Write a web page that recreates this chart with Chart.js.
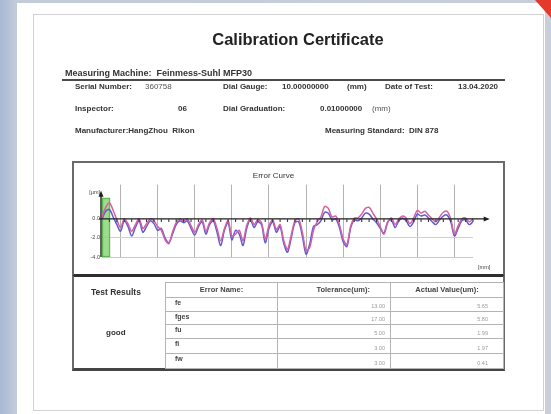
<!DOCTYPE html>
<html>
<head>
<meta charset="utf-8">
<script src="https://cdn.jsdelivr.net/npm/chart.js@4.4.1/dist/chart.umd.min.js"></script>
<style>
html, body { margin: 0; padding: 0; }
body {
  width: 551px; height: 414px; position: relative; overflow: hidden;
  background: linear-gradient(to right, #a8b9d3 0px, #c2cbd8 16px, #c8cfda 100%);
  font-family: "Liberation Sans", Arial, sans-serif; color: #2a2a2a;
}
.sheet { position: absolute; left: 17px; top: 3px; width: 528px; height: 411px; background: #fff; }
.corner { position: absolute; right: 0; top: 0; width: 0; height: 0;
  border-top: 18px solid #e4392b; border-left: 16px solid transparent; }
.doc { position: absolute; left: 0; top: 0; width: 551px; height: 414px; filter: blur(0.45px); }
.frame { position: absolute; left: 33px; top: 14px; width: 509px; height: 395px; border: 1px solid #d2d2d2; }
.t { position: absolute; white-space: nowrap; line-height: 1; font-size: 8px; font-weight: bold; color: #333; }
.n { font-weight: normal; color: #555; }
.title { position: absolute; left: 150px; width: 296px; top: 31px; text-align: center;
  font-size: 16.5px; font-weight: bold; line-height: 1; color: #222; }
.rule { position: absolute; left: 62px; top: 79px; width: 443px; height: 2px; background: #4a4a4a; }
.cbox { position: absolute; left: 72px; top: 161px; width: 429px; height: 111px;
  border: 2px solid #6a6a6a; border-bottom: 3px solid #2e2e2e; }
.tbox { position: absolute; left: 72px; top: 276px; width: 429px; height: 92px;
  border-left: 2px solid #6a6a6a; border-right: 2px solid #6a6a6a; border-bottom: 3px solid #454545; }
#curve { position: absolute; left: 74px; top: 163px; }
table { position: absolute; left: 165px; top: 282px; border-collapse: collapse; table-layout: fixed;
  font-family: "Liberation Sans", Arial, sans-serif; border: 1px solid #8a8a8a; }
td { border: 1px solid #b4b4b4; padding: 0; line-height: 1; white-space: nowrap; }
td.h { font-size: 7.5px; font-weight: bold; color: #444; text-align: center; }
td.k { font-size: 7px; font-weight: bold; color: #444; padding-left: 9px; vertical-align: top; padding-top: 1px; }
td.v { font-size: 5.5px; color: #9a9a9a; text-align: right; padding-right: 5px; vertical-align: bottom; padding-bottom: 2px; }
td.a { padding-right: 15px; }
</style>
</head>
<body>
<div class="sheet"></div>
<div class="corner"></div>
<div class="doc">
  <div class="frame"></div>
  <div class="title">Calibration Certificate</div>
  <div class="t" style="left:65px;top:69px;font-size:9px">Measuring Machine:&nbsp; Feinmess-Suhl MFP30</div>
  <div class="rule"></div>

  <div class="t" style="left:75px;top:83px">Serial Number:</div>
  <div class="t n" style="left:145px;top:83px">360758</div>
  <div class="t" style="left:223px;top:83px">Dial Gauge:</div>
  <div class="t" style="left:282px;top:83px">10.00000000</div>
  <div class="t" style="left:347px;top:83px">(mm)</div>
  <div class="t" style="left:385px;top:83px">Date of Test:</div>
  <div class="t" style="left:458px;top:83px">13.04.2020</div>

  <div class="t" style="left:75px;top:105px">Inspector:</div>
  <div class="t" style="left:178px;top:105px">06</div>
  <div class="t" style="left:223px;top:105px">Dial Graduation:</div>
  <div class="t" style="left:320px;top:105px">0.01000000</div>
  <div class="t n" style="left:372px;top:105px">(mm)</div>

  <div class="t" style="left:75px;top:127px">Manufacturer:HangZhou&nbsp; Rikon</div>
  <div class="t" style="left:325px;top:127px">Measuring Standard:&nbsp; DIN 878</div>

  <div class="cbox"></div>
  <canvas id="curve" width="430" height="110"></canvas>

  <div class="tbox"></div>
  <div class="t" style="left:91px;top:288px;font-size:8.5px">Test Results</div>
  <div class="t" style="left:106px;top:329px">good</div>
  <table>
    <colgroup><col style="width:112px"><col style="width:113px"><col style="width:113px"></colgroup>
    <tr style="height:15px"><td class="h">Error Name:</td><td class="h" style="text-align:right;padding-right:20px">Tolerance(um):</td><td class="h">Actual Value(um):</td></tr>
    <tr style="height:14px"><td class="k">fe</td><td class="v">13.00</td><td class="v a">5.65</td></tr>
    <tr style="height:13px"><td class="k">fges</td><td class="v">17.00</td><td class="v a">5.80</td></tr>
    <tr style="height:14px"><td class="k">fu</td><td class="v">5.00</td><td class="v a">1.99</td></tr>
    <tr style="height:15px"><td class="k">fi</td><td class="v">3.00</td><td class="v a">1.97</td></tr>
    <tr style="height:15px"><td class="k">fw</td><td class="v">3.00</td><td class="v a">0.41</td></tr>
  </table>
</div>

<script>
// travel of the dial gauge spindle, mm
const travel = [
  0.0, 0.1, 0.2, 0.3, 0.4, 0.5, 0.6, 0.7, 0.8, 0.9,
  1.0, 1.1, 1.2, 1.3, 1.4, 1.5, 1.6, 1.7, 1.8, 1.9,
  2.0, 2.1, 2.2, 2.3, 2.4, 2.5, 2.6, 2.7, 2.8, 2.9,
  3.0, 3.1, 3.2, 3.3, 3.4, 3.5, 3.6, 3.7, 3.8, 3.9,
  4.0, 4.1, 4.2, 4.3, 4.4, 4.5, 4.6, 4.7, 4.8, 4.9,
  5.0, 5.1, 5.2, 5.3, 5.4, 5.5, 5.6, 5.7, 5.8, 5.9,
  6.0, 6.1, 6.2, 6.3, 6.4, 6.5, 6.6, 6.7, 6.8, 6.9,
  7.0, 7.1, 7.2, 7.3, 7.4, 7.5, 7.6, 7.7, 7.8, 7.9,
  8.0, 8.1, 8.2, 8.3, 8.4, 8.5, 8.6, 8.7, 8.8, 8.9,
  9.0, 9.1, 9.2, 9.3, 9.4, 9.5, 9.6, 9.7, 9.8, 9.9,
  10.0
];

// error, um - upward stroke (pink)
const errorUp = [
  0.2, 1.2, 1.7, 0.9, -0.1, -0.9, 0.0, -0.5, -1.3, -0.6,
  0.0, -1.0, -0.5, 0.0, -0.2, -0.8, -1.2, -2.2, -2.6, -1.4,
  -0.4, 0.0, -0.2, 0.0, -0.7, -1.4, -0.6, -0.1, -1.3, -0.4,
  0.0, -1.0, -2.3, -1.0, -0.2, -1.8, -1.6, -1.2, -2.3, -0.7,
  0.1, -0.6, -0.1, -0.4, -2.1, -0.7, -0.1, -1.1, -0.6, -2.3,
  -3.2, -1.7, -0.2, 0.0, -1.4, -3.3, -3.0, -1.2, -0.3, 0.2,
  1.3, 1.1, 0.2, 0.3, -0.6, -2.1, -2.7, -0.8, 0.1, 0.1,
  0.5, 1.1, 1.2, 0.6, 0.0, -0.8, -1.6, -0.4, 0.1, -0.6,
  0.0, 0.3, 0.1, -0.5, 0.1, 0.9, 0.6, 0.8, 0.4, 0.0,
  -0.3, 0.2, 0.7, 0.8, 0.0, -1.6, -0.7, 0.0, 0.1, -0.3,
  0.0
];

// error, um - downward stroke (blue)
const errorDown = [
  0.0, 0.8, 1.0, 0.2, -0.6, -1.3, -0.2, -0.8, -1.8, -0.9,
  -0.2, -1.4, -0.8, -0.2, -0.5, -1.2, -1.0, -2.0, -2.5, -1.6,
  -0.6, -0.2, -0.4, -0.2, -1.0, -1.7, -0.8, -0.3, -1.6, -0.6,
  -0.2, -1.4, -2.8, -1.2, -0.4, -2.2, -1.2, -1.6, -2.8, -1.0,
  -0.1, -0.9, -0.3, -0.6, -2.5, -1.0, -0.3, -1.4, -0.8, -2.6,
  -3.5, -2.0, -0.4, -0.3, -1.8, -3.7, -2.6, -0.8, -0.6, -0.2,
  0.7, 0.6, -0.1, 0.0, -0.9, -2.4, -2.9, -1.0, -0.1, -0.2,
  0.1, 0.6, 0.5, 0.0, -0.4, -1.0, -1.5, -0.3, -0.1, -0.9,
  -0.2, 0.1, -0.2, -0.8, -0.3, 0.5, 0.3, 0.4, 0.1, -0.3,
  -0.6, -0.1, 0.3, 0.4, -0.3, -1.8, -1.0, -0.2, -0.1, -0.6,
  -0.3
];

// green start band: centre in mm, error range in um
const startBand = { x: 0.11, y: [-4.0, 2.2] };

const xTicks = [0, 1, 2, 3, 4, 5, 6, 7, 8, 9, 10];
const yTicks = [-4, -2, 0];

const FONT = '"Liberation Sans", Arial, sans-serif';

// axis lines with arrows, small marks on the zero line and the unit labels
const axesPlugin = {
  id: 'axes',
  afterDatasetsDraw(chart) {
    const ctx = chart.ctx;
    const x = chart.scales.x, y = chart.scales.y;
    const x0 = x.getPixelForValue(0);
    const y0 = y.getPixelForValue(0);
    const xEnd = x.getPixelForValue(10.45);
    const yTop = y.getPixelForValue(2.95);
    const yBot = y.getPixelForValue(-4);
    ctx.save();
    ctx.strokeStyle = '#1e1e1e';
    ctx.fillStyle = '#1e1e1e';
    ctx.lineWidth = 1.4;
    ctx.beginPath();
    ctx.moveTo(x0 - 1, yBot);
    ctx.lineTo(x0 - 1, yTop + 3);
    ctx.moveTo(x0 - 3, y0);
    ctx.lineTo(xEnd - 3, y0);
    ctx.stroke();
    ctx.beginPath();
    ctx.moveTo(x0 - 1, yTop);
    ctx.lineTo(x0 - 3.5, yTop + 6);
    ctx.lineTo(x0 + 1.5, yTop + 6);
    ctx.closePath();
    ctx.fill();
    ctx.beginPath();
    ctx.moveTo(xEnd, y0);
    ctx.lineTo(xEnd - 6, y0 - 2.5);
    ctx.lineTo(xEnd - 6, y0 + 2.5);
    ctx.closePath();
    ctx.fill();
    ctx.lineWidth = 1.1;
    ctx.strokeStyle = '#3a3a3a';
    ctx.beginPath();
    for (let v = 0.2; v < 10.05; v += 0.2) {
      const px = x.getPixelForValue(v);
      ctx.moveTo(px, y0);
      ctx.lineTo(px, y0 + 3);
    }
    ctx.stroke();
    ctx.font = '5.5px ' + FONT;
    ctx.fillStyle = '#444';
    ctx.textAlign = 'right';
    ctx.textBaseline = 'middle';
    ctx.fillText('[µm]', x0 - 2, yTop + 2);
    ctx.textAlign = 'center';
    ctx.fillText('[mm]', x.getPixelForValue(10.3), chart.height - 6);
    ctx.restore();
  }
};

new Chart(document.getElementById('curve'), {
  type: 'line',
  data: {
    datasets: [
      {
        type: 'bar',
        data: [startBand],
        barThickness: 8,
        backgroundColor: 'rgba(140, 214, 118, 0.85)',
        borderColor: '#4fae45',
        borderWidth: 1,
        borderSkipped: false,
        order: 3
      },
      {
        label: 'up',
        data: travel.map((t, i) => ({ x: t, y: errorUp[i] })),
        borderColor: 'rgb(212, 96, 164)',
        borderWidth: 1.5,
        pointRadius: 0,
        tension: 0.3,
        order: 1
      },
      {
        label: 'down',
        data: travel.map((t, i) => ({ x: t, y: errorDown[i] })),
        borderColor: 'rgb(96, 92, 208)',
        borderWidth: 1.5,
        pointRadius: 0,
        tension: 0.3,
        order: 2
      }
    ]
  },
  options: {
    responsive: false,
    animation: false,
    layout: { padding: { left: 0, right: 31, top: 0, bottom: 0 } },
    plugins: {
      legend: { display: false },
      tooltip: { enabled: false },
      title: {
        display: true,
        text: 'Error Curve',
        color: '#333',
        font: { family: FONT, size: 8, weight: 'normal' },
        padding: { top: 8, bottom: 4 }
      }
    },
    scales: {
      x: {
        type: 'linear',
        min: 0,
        max: 10,
        offset: false,
        afterBuildTicks: s => { s.ticks = xTicks.map(v => ({ value: v })); },
        afterFit: s => { s.height = 16; },
        ticks: { display: false },
        border: { display: false },
        grid: {
          drawTicks: false,
          lineWidth: 1,
          color: c => (c.tick && c.tick.value === 0) ? 'rgba(0,0,0,0)' : '#b3b3b3'
        }
      },
      y: {
        min: -4,
        max: 3.6,
        afterBuildTicks: s => { s.ticks = yTicks.map(v => ({ value: v })); },
        afterFit: s => { s.width = 28; },
        border: { display: false },
        ticks: {
          padding: 2,
          color: '#444',
          font: { family: FONT, size: 5.5 },
          callback: v => Number(v).toFixed(1)
        },
        grid: {
          drawTicks: false,
          lineWidth: 1,
          color: c => {
            const v = c.tick ? c.tick.value : null;
            if (v === -2) return '#e0d68c';
            if (v === -4) return '#c9c9c9';
            return 'rgba(0,0,0,0)';
          }
        }
      }
    }
  },
  plugins: [axesPlugin]
});
</script>
</body>
</html>
